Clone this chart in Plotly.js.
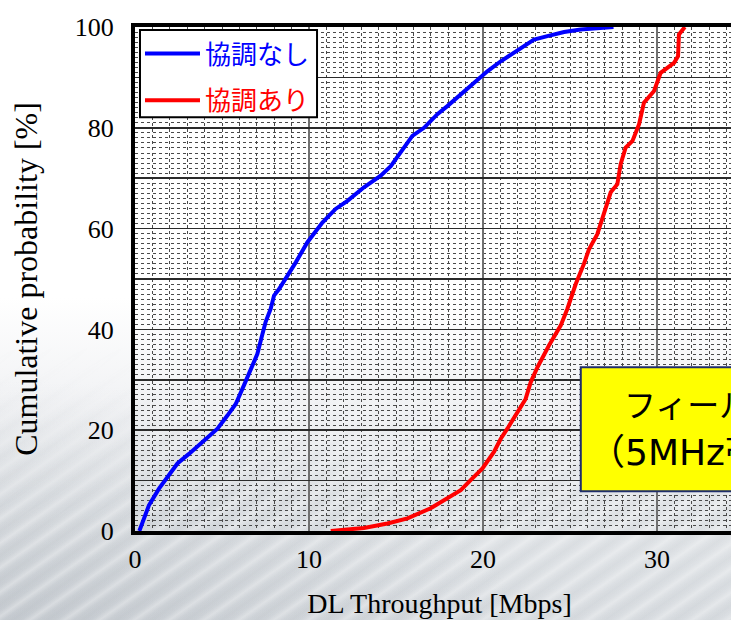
<!DOCTYPE html>
<html>
<head>
<meta charset="utf-8">
<script src="https://cdn.plot.ly/plotly-3.0.1.min.js"></script>
<style>
html,body{margin:0;padding:0;width:731px;height:620px;overflow:hidden;}
body{
  position:relative;
  background:
    radial-gradient(ellipse 520px 260px at 0px 640px, rgba(165,172,180,0.40), rgba(165,172,180,0) 100%),
    linear-gradient(to bottom, #ffffff 0%, #ffffff 48%, #f2f3f5 64%, #e4e7ea 80%, #d9dde1 100%);
}
#bg{position:absolute;left:0;top:0;width:731px;height:620px;
  background:repeating-linear-gradient(145deg, rgba(255,255,255,0) 0px, rgba(255,255,255,0.30) 5px, rgba(255,255,255,0) 10px, rgba(120,128,136,0.05) 15px, rgba(255,255,255,0) 20px);
  -webkit-mask-image:linear-gradient(to bottom, rgba(0,0,0,0) 55%, rgba(0,0,0,1) 85%);
  mask-image:linear-gradient(to bottom, rgba(0,0,0,0) 55%, rgba(0,0,0,1) 85%);}
#chart{position:absolute;left:0;top:0;}
</style>
</head>
<body>
<div id="bg"></div>
<div id="chart"></div>
<script>
// ---- data ----
const seriesNames = ['協調なし', '協調あり'];
const seriesColors = ['#0000ff', '#ff0000'];

const noCoordX = [0.25,0.80,1.38,1.86,2.44,3.10,4.06,4.74,5.31,5.79,6.26,6.65,7.03,7.28,7.51,7.80,7.99,8.28,8.66,9.24,9.91,10.48,10.77,11.53,12.21,13.16,14.12,14.70,15.26,15.94,16.61,17.38,17.95,18.72,19.68,20.25,21.02,21.78,22.55,22.93,23.70,24.66,25.61,27.5];
const noCoordY = [0,5.1,8.4,10.8,13.4,15.3,18.3,20.3,22.9,25.2,28.9,32.2,35.1,38.5,41.5,44.1,46.7,48.0,50.0,53.3,57.3,59.9,61.2,63.9,65.5,68.2,70.5,72.4,75.1,78.4,80.0,82.7,84.3,86.6,89.3,91.2,93.2,94.9,96.5,97.5,98.2,99.0,99.5,100];

const coordX = [11.25,13.16,14.51,15.66,16.99,17.95,18.72,19.29,19.97,20.63,21.02,21.40,21.98,22.45,22.74,23.13,23.79,24.47,24.85,25.33,25.80,26.09,26.57,26.95,27.34,27.72,27.91,28.20,28.59,28.97,29.25,29.83,30.21,30.98,31.21,31.26,31.6];
const coordY = [0,0.6,1.5,2.5,4.5,6.4,8.1,10.1,12.4,15.7,18.3,20.3,23.6,26.2,29.5,32.5,36.8,40.8,44.1,49.0,53.0,55.9,58.9,62.9,67.2,68.8,72.8,76.1,77.4,80.7,85.0,87.3,90.9,92.9,94.2,98.5,100];

const xTickVals = [0,10,20,30];
const xTickLabels = ['0','10','20','30'];
const yTickVals = [0,10,20,30,40,50,60,70,80,90,100];
const yTickLabels = ['0','','20','','40','','60','','80','','100'];

const xTitle = 'DL Throughput [Mbps]';
const yTitle = 'Cumulative probability [%]';
const boxLine1 = 'フィールド実験';
const boxLine2 = '（5MHz帯域幅）';

// ---- chart ----
const cjk = '"Noto Sans CJK JP", "Noto Sans", sans-serif';
const wideSans = '"DejaVu Sans", "Noto Sans CJK JP", sans-serif';
const serif = '"Liberation Serif", "Times New Roman", serif';

const traces = [
  {x: noCoordX, y: noCoordY, name: '<span style="color:' + seriesColors[0] + '">' + seriesNames[0] + '</span>',
   type: 'scatter', mode: 'lines', line: {color: seriesColors[0], width: 4}, legendgroup: 'a'},
  {x: coordX, y: coordY, name: '<span style="color:' + seriesColors[1] + '">' + seriesNames[1] + '</span>',
   type: 'scatter', mode: 'lines', line: {color: seriesColors[1], width: 4}, legendgroup: 'b'}
];

const minorGrid = {dtick: 1, showgrid: true, gridcolor: '#4a4a4a', griddash: '3px,3px', gridwidth: 1, ticks: ''};

const layout = {
  width: 763, height: 620,
  margin: {l: 135, r: 19, t: 27, b: 89},
  paper_bgcolor: 'rgba(0,0,0,0)',
  plot_bgcolor: 'rgba(0,0,0,0)',
  showlegend: true,
  legend: {
    x: 0.0082, y: 0.994, xanchor: 'left', yanchor: 'top',
    bgcolor: 'rgba(0,0,0,0)', borderwidth: 0,
    font: {family: cjk, size: 26, color: '#000'},
    traceorder: 'grouped', tracegroupgap: 10, itemwidth: 55
  },
  xaxis: {
    range: [0, 35], tickvals: xTickVals, ticktext: xTickLabels,
    showgrid: true, gridcolor: '#707070', gridwidth: 1.5,
    minor: minorGrid,
    showline: true, linecolor: '#000', linewidth: 4, mirror: true,
    ticks: 'outside', ticklen: 2, tickcolor: 'rgba(0,0,0,0)',
    tickfont: {family: serif, size: 26, color: '#000'},
    zeroline: false, fixedrange: true,
    title: {text: xTitle, font: {family: serif, size: 28, color: '#000'}, standoff: 21}
  },
  yaxis: {
    range: [0, 100], tickvals: yTickVals, ticktext: yTickLabels,
    showgrid: true, gridcolor: '#2a2a2a', gridwidth: 1.5,
    minor: minorGrid,
    showline: true, linecolor: '#000', linewidth: 4, mirror: true,
    ticks: 'outside', ticklen: 12, tickcolor: 'rgba(0,0,0,0)',
    tickfont: {family: serif, size: 26, color: '#000'},
    zeroline: false, fixedrange: true,
    title: {text: yTitle, font: {family: serif, size: 32, color: '#000'}, standoff: 29}
  },
  shapes: [
    {type: 'rect', xref: 'paper', yref: 'paper', x0: 0.0082, x1: 0.2989, y0: 0.821, y1: 0.994,
     fillcolor: '#ffffff', line: {color: '#000000', width: 2}, layer: 'above'},
    {type: 'rect', xref: 'paper', yref: 'paper', x0: 0.732, x1: 1.35, y0: 0.079, y1: 0.325,
     fillcolor: '#ffff00', line: {color: '#1f2d6b', width: 2}, layer: 'above'}
  ],
  annotations: [
    {xref: 'paper', yref: 'paper', x: 0.800, y: 0.254, xanchor: 'left', yanchor: 'middle',
     text: boxLine1, showarrow: false, font: {family: cjk, size: 32, color: '#000'}},
    {xref: 'paper', yref: 'paper', x: 0.742, y: 0.155, xanchor: 'left', yanchor: 'middle',
     text: boxLine2, showarrow: false, font: {family: wideSans, size: 36, color: '#000'}}
  ]
};

Plotly.newPlot('chart', traces, layout, {displayModeBar: false, staticPlot: true});
</script>
</body>
</html>
